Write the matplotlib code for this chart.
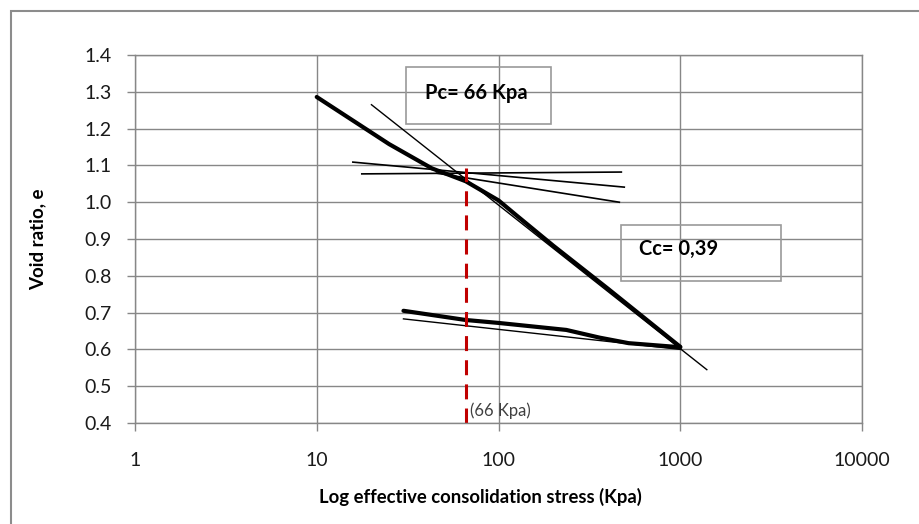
import numpy
from matplotlib import pyplot
from matplotlib.patches import Rectangle
from matplotlib.ticker import FixedLocator, FixedFormatter, NullLocator

# Virgin compression curve
virgin_stress = [10, 25, 43, 66, 100, 125, 200, 400, 1000]
virgin_e = [1.286, 1.158, 1.092, 1.057, 1.005, 0.965, 0.882, 0.765, 0.607]

# Unloading / reloading
rebound_stress = [30, 66, 100, 236, 360, 520, 1000]
rebound_e = [0.705, 0.68, 0.672, 0.653, 0.632, 0.617, 0.606]
rebound_thin_stress = [30, 1000]
rebound_thin_e = [0.683, 0.600]

# Casagrande construction lines
cc_stress = [20, 1400]
cc_e = [1.265, 0.545]
horizontal_stress = [17.7, 474]
horizontal_e = [1.077, 1.082]
tangent_stress = [15.8, 492]
tangent_e = [1.109, 1.041]
bisector_stress = [45.6, 462]
bisector_e = [1.079, 1.0]

pc_value = 66
pc_top_e = 1.093

x_ticks = [1, 10, 100, 1000, 10000]
x_tick_labels = ['1', '10', '100', '1000', '10000']
y_ticks = numpy.round(numpy.arange(0.4, 1.41, 0.1), 1)

FONT = 'Lato'
GRID = '#878787'
BOX = '#9a9a9a'

fig = pyplot.figure(figsize=(9.2, 5.24), dpi=100)
ax = fig.add_axes([0.1467, 0.1927, 0.7903, 0.7023])

ax.set_xscale('log')
ax.set_xlim(1, 10000)
ax.set_ylim(0.4, 1.4)

ax.plot(virgin_stress, virgin_e, color='black', linewidth=3.0, solid_capstyle='round', solid_joinstyle='round')
ax.plot(rebound_stress, rebound_e, color='black', linewidth=3.0, solid_capstyle='round', solid_joinstyle='round')
ax.plot(rebound_thin_stress, rebound_thin_e, color='black', linewidth=1.0)
ax.plot(cc_stress, cc_e, color='black', linewidth=1.0)
ax.plot(horizontal_stress, horizontal_e, color='black', linewidth=1.2)
ax.plot(tangent_stress, tangent_e, color='black', linewidth=1.2)
ax.plot(bisector_stress, bisector_e, color='black', linewidth=1.2)

ax.plot([pc_value, pc_value], [0.4, pc_top_e], color='#C00000', linewidth=2.2, dashes=[4.9, 3.0])

ax.text(pc_value * 1.06, 0.433, '(66 Kpa)', fontsize=12, color='#404040', family=FONT, va='center', ha='left')

ax.text(0.469, 0.897, 'Pc= 66 Kpa', transform=ax.transAxes, fontsize=14.5, fontweight='bold', family=FONT, ha='center', va='center')
ax.add_patch(Rectangle((0.373, 0.8125), 0.199, 0.155, transform=ax.transAxes, facecolor='none', edgecolor=BOX, linewidth=1.2))
ax.text(0.748, 0.473, 'Cc= 0,39', transform=ax.transAxes, fontsize=14.5, fontweight='bold', family=FONT, ha='center', va='center')
ax.add_patch(Rectangle((0.668, 0.385), 0.221, 0.153, transform=ax.transAxes, facecolor='none', edgecolor=BOX, linewidth=1.2))

ax.xaxis.set_major_locator(FixedLocator(x_ticks))
ax.xaxis.set_major_formatter(FixedFormatter(x_tick_labels))
ax.xaxis.set_minor_locator(NullLocator())
ax.set_yticks(y_ticks)
ax.set_yticklabels([f'{v:.1f}' for v in y_ticks])

ax.tick_params(axis='x', direction='out', length=6, width=1, color=GRID, pad=15, labelsize=14)
ax.tick_params(axis='y', direction='out', length=6, width=1, color=GRID, pad=11, labelsize=14)
for label in ax.get_xticklabels() + ax.get_yticklabels():
    label.set_family(FONT)
    label.set_color('#1a1a1a')

ax.grid(True, color=GRID, linewidth=1.0)
ax.set_axisbelow(True)
for spine in ax.spines.values():
    spine.set_color(GRID)
    spine.set_linewidth(1.0)

ax.set_xlabel('Log effective consolidation stress (Kpa)', fontsize=13.3, fontweight='bold', family=FONT)
ax.xaxis.set_label_coords(0.4746, -0.175)
ax.set_ylabel('Void ratio, e', fontsize=13.5, fontweight='bold', family=FONT, labelpad=27)

# chart border (runs off the right and bottom of the picture)
fig.add_artist(Rectangle((11 / 920, -0.05), 1.0, 1 - 11 / 524 + 0.05, transform=fig.transFigure,
                         facecolor='none', edgecolor='#8c8c8c', linewidth=1.5))

pyplot.savefig('out.png', dpi=100)
